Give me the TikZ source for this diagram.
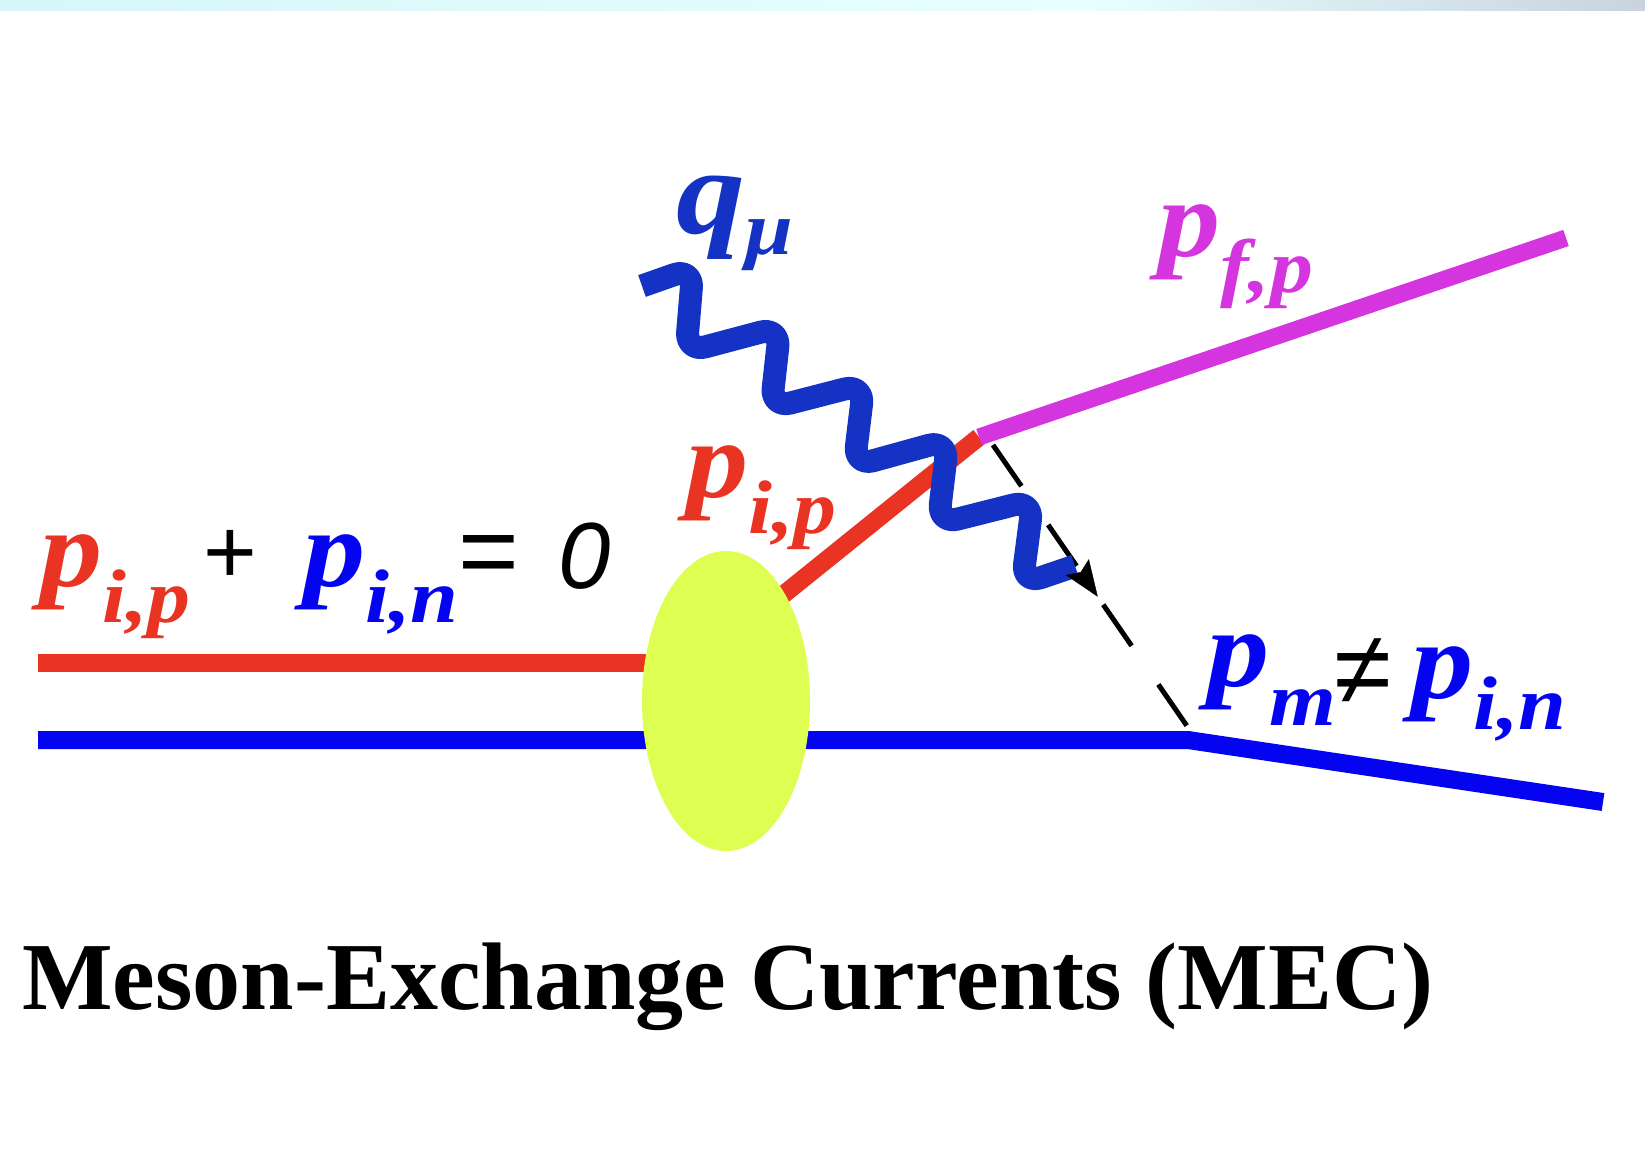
\documentclass[tikz,border=0pt]{standalone}
\usepackage{fontspec}
\usepackage{graphicx}
\setmainfont{Liberation Serif}
\newfontfamily\sansf{Liberation Sans}
\usetikzlibrary{arrows.meta,decorations.markings,shapes.geometric,backgrounds}
\definecolor{cred}{RGB}{233,51,35}
\definecolor{cblue}{RGB}{4,4,240}
\definecolor{cwave}{RGB}{20,50,195}
\definecolor{cmag}{RGB}{213,53,222}
\definecolor{cblob}{RGB}{222,255,82}
\definecolor{stripA}{RGB}{214,246,248}
\definecolor{stripB}{RGB}{232,255,255}
\definecolor{stripC}{RGB}{200,211,222}
\newcommand\mlab[3][0.33]{\scalebox{1.13}[1]{#2\raisebox{-#1em}{\fontsize{76}{76}\selectfont #3}}}
\tikzset{
  lab/.style={inner sep=0pt, anchor=base west, font=\fontsize{110}{110}\selectfont\bfseries\itshape},
  sym/.style={inner sep=0pt, anchor=base west, font=\sansf\fontsize{92}{92}\selectfont},
  fermion/.style={line width=18pt, line cap=butt},
  photon/.style={line width=23pt, color=cwave, rounded corners=20pt, line cap=butt, line join=round},
  meson/.style={line width=5pt, dash pattern=on 50pt off 47pt},
}
\begin{document}
\begin{tikzpicture}[x=1pt,y=-1pt]
\useasboundingbox (0,0) rectangle (1645,1152);
% labels and blob
\node[ellipse, fill=cblob, inner sep=0pt, minimum width=168pt, minimum height=300pt] (blob) at (726,701) {};
\node[lab, text=cred] (lpp) at (40,586) {\mlab{p}{i,p}};
\node[sym] (plus) at (203,583) {+};
\node[lab, text=cblue] (lpn) at (303,586) {\mlab{p}{i,n}};
\node[sym, font=\sansf\fontsize{104}{104}\selectfont] (eq) at (458,586) {=};
\node[sym, font=\sansf\itshape\fontsize{94}{94}\selectfont] (zero) at (558,588) {0};
\node[lab, text=cwave, font=\fontsize{122}{122}\selectfont\bfseries\itshape] (lq) at (676,233) {\mlab[0.18]{q}{μ}};
\node[lab, text=cmag] (lfp) at (1158,256) {\mlab{p}{f,p}};
\node[lab, text=cred] (lip) at (686,497) {\mlab{p}{i,p}};
\node[lab, text=cblue] (lm) at (1207,686) {\mlab[0.36]{p}{m}};
\node[sym, font=\sansf\fontsize{104}{104}\selectfont] (neq) at (1334,704) {≠};
\node[lab, text=cblue] (lin) at (1411,698) {\mlab[0.29]{p}{i,n}};
\node[inner sep=0pt, anchor=base west, font=\fontsize{96}{96}\selectfont\bfseries] (cap) at (22,1009) {Meson-Exchange Currents (MEC)};
% vertices
\coordinate (rin) at (38,663);
\coordinate (bin) at (38,740);
\coordinate (bv) at (1188,740);
\coordinate (bout) at (1603,802);
\coordinate (rd) at (768,607);
\coordinate (pv) at (979,437);
\coordinate (pout) at (1566,238);
\coordinate (ws) at (642,286);
\coordinate (we) at (1075,566);
\coordinate (ds) at (993,445);
\coordinate (de) at (1187,726);
\begin{pgfonlayer}{background}
\fill[white] (0,0) rectangle (1645,1152);
\shade[left color=stripA, right color=stripB] (0,0) rectangle (1090,10);
\shade[left color=stripB, right color=stripC] (1090,0) rectangle (1645,10);
\draw[fermion, cred] (rin) -- (rin -| blob.center);
\draw[fermion, cblue, line join=round] (bin) -- (bv) -- (bout);
\draw[fermion, cred] (rd) -- (pv);
\draw[fermion, cmag, line width=17pt] (pv) -- (pout);
\draw[meson] (ds) -- (de);
\draw[photon] (ws) -- (693,268) -- (686,352) -- (780,327) -- (771,408) -- (864,384) -- (854,466) -- (948,440) -- (938,524) -- (1033,500) -- (1022,584) -- (we);
\path[decoration={markings, mark=at position 0.54 with {\arrow[black]{Stealth[length=36pt, width=28pt, inset=6pt]}}}, decorate] (ds) -- (de);
\end{pgfonlayer}
\end{tikzpicture}
\end{document}
